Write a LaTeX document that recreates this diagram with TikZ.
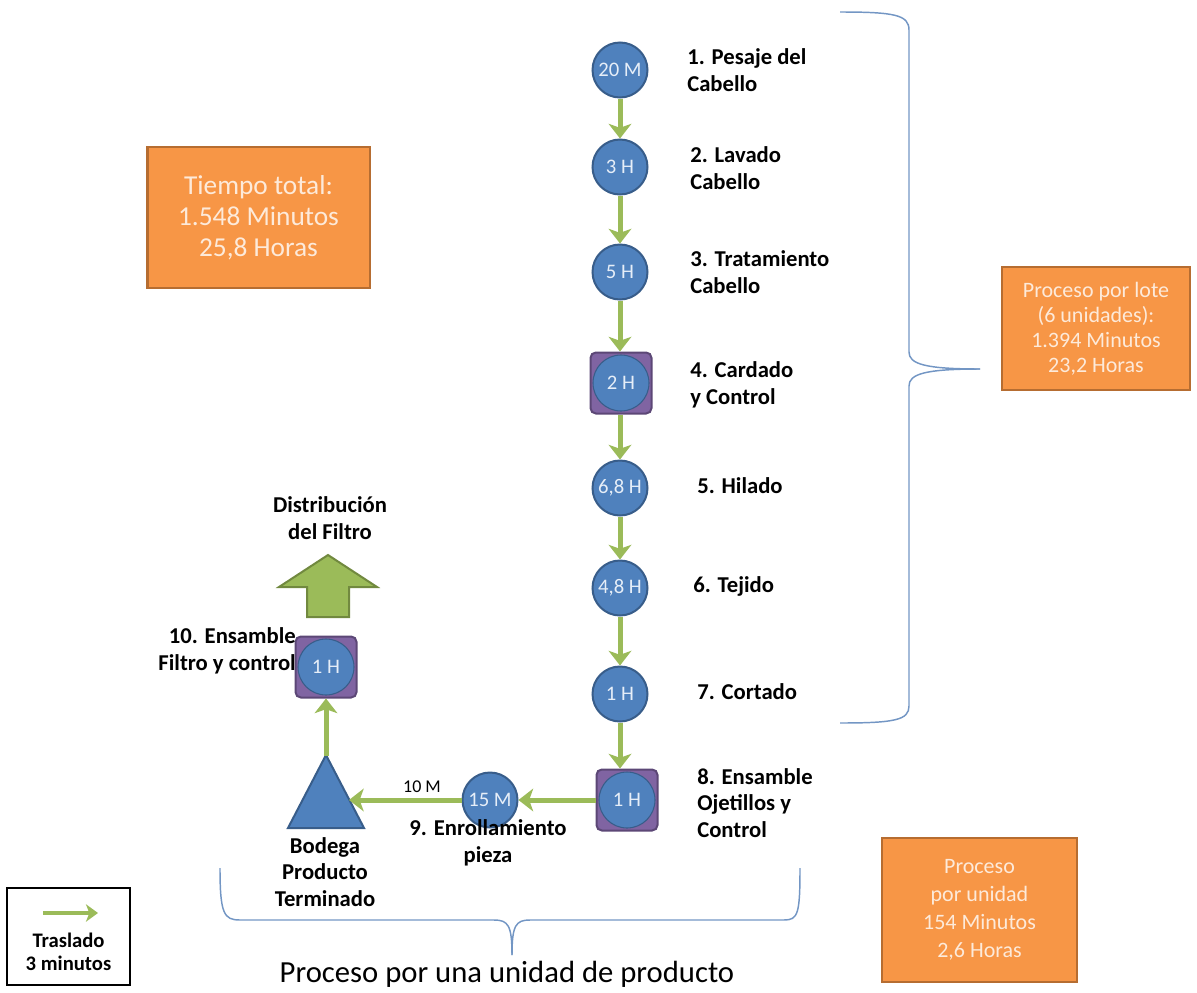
\documentclass[tikz,border=0pt]{standalone}
\usepackage{fontspec}
\setmainfont{Carlito}
\usetikzlibrary{arrows.meta}

\definecolor{procblue}{HTML}{4F81BD}
\definecolor{procedge}{HTML}{385D8A}
\definecolor{ctrlfill}{HTML}{8064A2}
\definecolor{ctrledge}{HTML}{5C4776}
\definecolor{flowgreen}{HTML}{9BBB59}
\definecolor{flowedge}{HTML}{71893F}
\definecolor{boxorange}{HTML}{F79646}
\definecolor{boxedge}{HTML}{B66D31}
\definecolor{boxtext}{HTML}{FDEADA}
\definecolor{bracecol}{HTML}{7396C4}
\definecolor{circtext}{HTML}{E6EEF8}

\tikzset{
  proc/.style={circle, fill=procblue, draw=procedge, line width=1.5pt,
    minimum size=41.25pt, inner sep=0pt, text=circtext,
    font=\fontsize{15.5}{15.5}\selectfont},
  ctrl/.style={rectangle, rounded corners=4pt, fill=ctrlfill, draw=ctrledge,
    line width=1.5pt, minimum size=45.75pt, inner sep=0pt},
  ctrlcircle/.style={proc, minimum size=42pt, line width=0.8pt},
  flow/.style={draw=flowgreen, line width=3.75pt,
    -{Stealth[length=11pt,width=17pt,inset=3pt]}},
  steplabel/.style={font=\fontsize{17}{20}\selectfont\bfseries,
    align=left, anchor=west, inner sep=0pt},
  sidelabel/.style={font=\fontsize{17}{20}\selectfont\bfseries,
    align=center, inner sep=0pt},
  summary/.style={rectangle, fill=boxorange, draw=boxedge, line width=2pt,
    text=boxtext, align=center, inner sep=0pt},
  bracepath/.style={draw=bracecol, line width=1.1pt},
}

\begin{document}
\begin{tikzpicture}[x=0.75pt, y=-0.75pt]
\useasboundingbox (0,0) rectangle (1197,993);

% main process column
\node[proc] (c1) at (620,70) {20 M};
\node[proc] (c2) at (620,167) {3 H};
\node[proc] (c3) at (620,272) {5 H};
\node[ctrl] (s4) at (621,383) {};
\node[ctrlcircle] (c4) at (621,383) {2 H};
\node[proc] (c5) at (620,488) {6,8 H};
\node[proc] (c6) at (620,588) {4,8 H};
\node[proc] (c7) at (620,694) {1 H};
\node[ctrl] (s8) at (627,800) {};
\node[ctrlcircle] (c8) at (627,800) {1 H};
\node[proc] (c9) at (490,800) {15 M};
\node[ctrl] (s10) at (326,667) {};
\node[ctrlcircle] (c10) at (326,667) {1 H};

% storage triangle
\filldraw[fill=procblue, draw=procedge, line width=1.5pt]
  (326,755) -- (364,828) -- (288,828) -- cycle;
\coordinate (tapex) at (326,756);
\coordinate (tright) at (349,800);

% distribution arrow
\filldraw[fill=flowgreen, draw=flowedge, line width=1.5pt]
  (328,555) -- (377,587) -- (349,587) -- (349,617) -- (307,617)
  -- (307,587) -- (279,587) -- cycle;

% transfers
\draw[flow] (c1) -- (c2);
\draw[flow] (c2) -- (c3);
\draw[flow] (c3.south) -- (c3.south |- s4.north);
\draw[flow] (s4.south -| c5) -- (c5.north);
\draw[flow] (c5) -- (c6);
\draw[flow] (c6) -- (c7);
\draw[flow] (c7.south) -- (c7.south |- s8.north);
\draw[flow] (s8.west) -- (c9.east);
\draw[flow] (c9.west) -- (tright);
\draw[flow] (tapex) -- (s10.south);

% step labels
\node[steplabel] (l1) at (687,70) {1. Pesaje del\\Cabello};
\node[steplabel] (l2) at (690,168) {2. Lavado\\Cabello};
\node[steplabel] (l3) at (690,272) {3. Tratamiento\\Cabello};
\node[steplabel] (l4) at (690,385) {4. Cardado\\y Control};
\node[steplabel] (l5) at (697,486) {5. Hilado};
\node[steplabel] (l6) at (693,586) {6. Tejido};
\node[steplabel] (l7) at (697,692) {7. Cortado};
\node[steplabel] (l8) at (697,803) {8. Ensamble\\Ojetillos y\\Control};
\node[sidelabel] (l9) at (488,843) {9. Enrollamiento\\pieza};
\node[steplabel, anchor=east, align=right] (l10) at (296,651)
  {10. Ensamble\\Filtro y control};
\node[sidelabel] (lbod) at (325,872) {Bodega\\Producto\\Terminado};
\node[sidelabel] (ldist) at (330,518) {Distribución\\del Filtro};
\node[inner sep=0pt, font=\fontsize{13.5}{13.5}\selectfont] (l10m) at (422,787) {10 M};

% summary boxes
\node[summary, minimum width=167pt, minimum height=105.75pt,
  font=\fontsize{20.5}{23.25}\selectfont] (tot) at (258.5,217.5)
  {Tiempo total:\\1.548 Minutos\\25,8 Horas};
\node[summary, minimum width=141pt, minimum height=92.25pt,
  font=\fontsize{16.5}{18.75}\selectfont] (lote) at (1096,328.5)
  {Proceso por lote\\(6 unidades):\\1.394 Minutos\\23,2 Horas};
\node[summary, minimum width=146.25pt, minimum height=108pt,
  font=\fontsize{16.5}{21}\selectfont] (unid) at (979.5,910)
  {Proceso\\por unidad\\154 Minutos\\2,6 Horas};

% braces
\draw[bracepath] (840,12) .. controls (895,12) and (909,15) .. (909,30)
  -- (909,352) .. controls (909,364) and (925,369) .. (980,369);
\draw[bracepath] (980,369) .. controls (925,369) and (909,374) .. (909,386)
  -- (909,706) .. controls (909,720) and (895,723) .. (840,723);
\draw[bracepath] (220,868) .. controls (220,914) and (224,920) .. (240,920)
  -- (494,920) .. controls (508,920) and (512,925) .. (512,955);
\draw[bracepath] (512,955) .. controls (512,925) and (516,920) .. (530,920)
  -- (784,920) .. controls (798,920) and (800,914) .. (800,868);

\node[inner sep=0pt, font=\fontsize{23}{23}\selectfont] (title) at (507,974)
  {Proceso por una unidad de producto};

% legend
\node[draw=black, line width=0.8pt, minimum width=92.25pt, minimum height=72.75pt,
  inner sep=0pt] (leg) at (68.5,936.5) {};
\coordinate (lega) at (43,913);
\coordinate (legb) at (98,913);
\draw[draw=flowgreen, line width=3pt,
  -{Stealth[length=9pt,width=13pt,inset=2.5pt]}] (lega) -- (legb);
\node[inner sep=0pt, align=center, font=\fontsize{15.5}{17.25}\selectfont\bfseries]
  (legt) at (68.5,952) {Traslado\\3 minutos};
\end{tikzpicture}
\end{document}
